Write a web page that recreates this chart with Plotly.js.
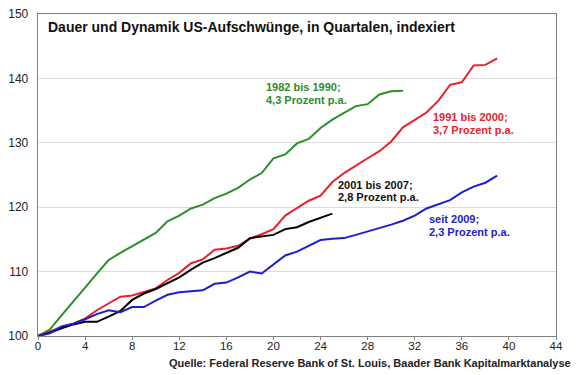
<!DOCTYPE html>
<html>
<head>
<meta charset="utf-8">
<script src="https://cdn.plot.ly/plotly-3.0.1.min.js"></script>
<style>html,body{margin:0;padding:0;background:#fff;}#chart{width:580px;height:375px;}</style>
</head>
<body>
<div id="chart"></div>
<script>
var titleText = "Dauer und Dynamik US-Aufschwünge, in Quartalen, indexiert";
var sourceText = "Quelle: Federal Reserve Bank of St. Louis, Baader Bank Kapitalmarktanalyse";

var xTicks = [0, 4, 8, 12, 16, 20, 24, 28, 32, 36, 40, 44];
var yTicks = [100, 110, 120, 130, 140, 150];

var green1982 = [100, 101.0, 103.2, 105.3, 107.5, 109.7, 111.8, 112.9, 113.9, 115.0, 116.0, 117.8, 118.7, 119.8, 120.4, 121.4, 122.1, 123.0, 124.3, 125.3, 127.6, 128.2, 129.9, 130.6, 132.3, 133.6, 134.7, 135.7, 136.0, 137.5, 138.0, 138.1];
var red1991 = [100, 100.7, 101.4, 101.9, 102.7, 104.0, 105.1, 106.1, 106.3, 106.9, 107.4, 108.7, 109.8, 111.3, 111.9, 113.4, 113.6, 114.0, 115.1, 115.8, 116.6, 118.7, 119.8, 121.0, 121.8, 123.9, 125.3, 126.5, 127.6, 128.7, 130.2, 132.4, 133.6, 134.7, 136.5, 139.0, 139.4, 142.0, 142.1, 143.1];
var black2001 = [100, 100.5, 101.2, 101.8, 102.2, 102.2, 103.0, 103.9, 105.6, 106.6, 107.3, 108.2, 109.1, 110.3, 111.4, 112.1, 112.9, 113.7, 115.2, 115.5, 115.7, 116.6, 116.9, 117.7, 118.3, 119.0];
var blue2009 = [100, 100.4, 101.5, 101.9, 102.6, 103.4, 104.0, 103.7, 104.5, 104.5, 105.5, 106.4, 106.8, 107.0, 107.1, 108.1, 108.3, 109.1, 110.0, 109.7, 111.1, 112.5, 113.1, 114.0, 114.9, 115.1, 115.2, 115.7, 116.2, 116.7, 117.3, 117.9, 118.7, 119.8, 120.4, 121.1, 122.3, 123.2, 123.8, 124.9];

var labels = [
  {lines: ["1982 bis 1990;", "4,3 Prozent p.a."], x: 19.18, y: [138.59, 136.68], color: "#2e8b2e"},
  {lines: ["1991 bis 2000;", "3,7 Prozent p.a."], x: 33.42, y: [133.99, 132.02], color: "#e8222a"},
  {lines: ["2001 bis 2007;", "2,8 Prozent p.a."], x: 25.35, y: [123.47, 121.56], color: "#111111"},
  {lines: ["seit 2009;", "2,3 Prozent p.a."], x: 33.0, y: [118.14, 116.21], color: "#2222c8"}
];

function quarters(arr){ return arr.map(function(_, i){ return i; }); }

var series = [
  {y: green1982, color: "#2a8f2a"},
  {y: red1991, color: "#e8222a"},
  {y: black2001, color: "#000000"},
  {y: blue2009, color: "#1e1ecc"}
];

var traces = series.map(function(s){
  return {x: quarters(s.y), y: s.y, type: "scatter", mode: "lines",
          line: {color: s.color, width: 2}, hoverinfo: "skip"};
});

var font = "Arial, 'Liberation Sans', sans-serif";
var annotations = [];
labels.forEach(function(l){
  l.lines.forEach(function(t, i){
    annotations.push({x: l.x, y: l.y[i], xref: "x", yref: "y", text: "<b>" + t + "</b>", showarrow: false,
      xanchor: "left", yanchor: "middle", font: {family: font, size: 11, color: l.color}});
  });
});
annotations.push({x: 0.0149, y: 0.9605, xref: "paper", yref: "paper", text: "<b>" + titleText + "</b>",
  showarrow: false, xanchor: "left", yanchor: "middle", font: {family: font, size: 14, color: "#111"}});
annotations.push({x: 1.0328, y: -0.083, xref: "paper", yref: "paper", text: "<b>" + sourceText + "</b>",
  showarrow: false, xanchor: "right", yanchor: "middle", font: {family: font, size: 11, color: "#222"}});

var layout = {
  width: 580, height: 375,
  margin: {l: 38, r: 24, t: 14, b: 39},
  paper_bgcolor: "#fff", plot_bgcolor: "#fff",
  showlegend: false,
  xaxis: {range: [0, 44], tickvals: xTicks, ticktext: xTicks.map(String), showgrid: false, zeroline: false,
          showline: true, mirror: true, linecolor: "#808080", linewidth: 1.3,
          ticks: "outside", ticklen: 3, tickcolor: "#808080", ticklabelstandoff: -4,
          tickfont: {family: font, size: 11.5, color: "#222"}},
  yaxis: {range: [100, 150], tickvals: yTicks, ticktext: yTicks.map(String), showgrid: true, gridcolor: "#dcdcdc",
          zeroline: false, showline: true, mirror: true, linecolor: "#808080", linewidth: 1.3,
          ticks: "", ticklabelstandoff: 6,
          tickfont: {family: font, size: 12, color: "#222"}},
  annotations: annotations
};

Plotly.newPlot("chart", traces, layout, {staticPlot: true, displayModeBar: false});
</script>
</body>
</html>
